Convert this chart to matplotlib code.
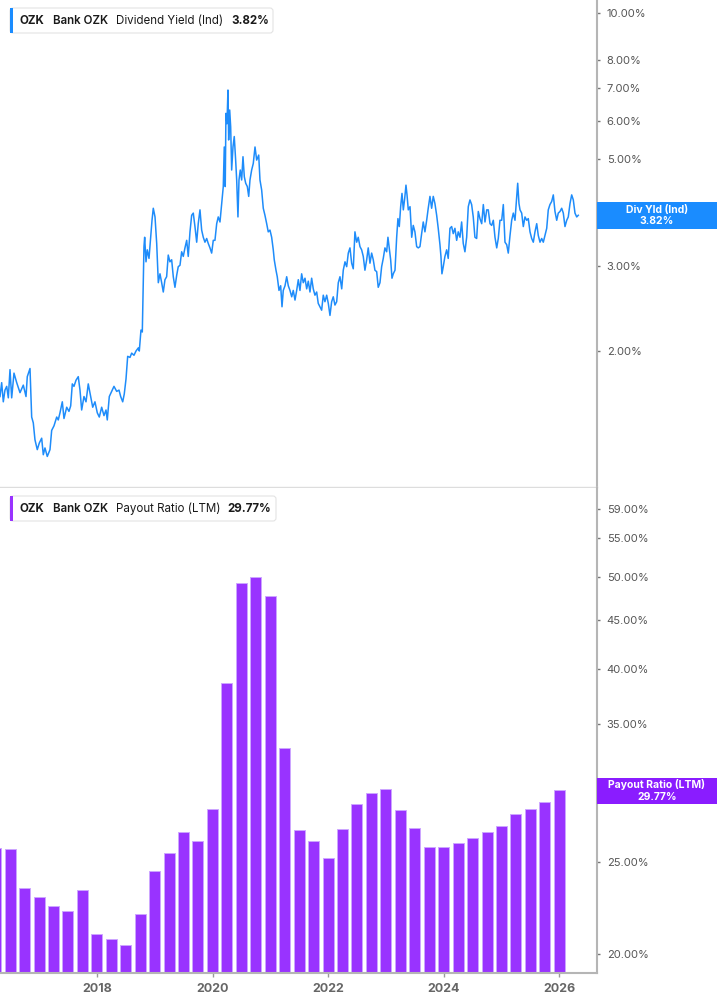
import numpy as np
import pandas as pd
import matplotlib
matplotlib.use('Agg')
import matplotlib.pyplot as plt
from matplotlib.patches import Rectangle, FancyBboxPatch
from matplotlib.ticker import FixedLocator, NullLocator
from matplotlib.transforms import Affine2D

plt.rcParams['font.family'] = ['Inter', 'DejaVu Sans']

# dividend yield (Ind), %, x in decimal years
yield_years = [
    2016.322, 2016.351, 2016.379, 2016.408, 2016.438, 2016.466, 2016.495, 2016.524, 2016.564, 2016.611,
    2016.668, 2016.725, 2016.772, 2016.794, 2016.841, 2016.870, 2016.898, 2016.927, 2016.967, 2017.002,
    2017.043, 2017.071, 2017.100, 2017.140, 2017.187, 2017.216, 2017.256, 2017.303, 2017.330, 2017.360,
    2017.400, 2017.429, 2017.476, 2017.515, 2017.545, 2017.573, 2017.602, 2017.637, 2017.676, 2017.706,
    2017.735, 2017.775, 2017.810, 2017.849, 2017.891, 2017.926, 2017.965, 2018.005, 2018.040, 2018.081,
    2018.121, 2018.156, 2018.178, 2018.213, 2018.254, 2018.294, 2018.341, 2018.381, 2018.410, 2018.445,
    2018.472, 2018.502, 2018.531, 2018.571, 2018.600, 2018.640, 2018.675, 2018.715, 2018.732, 2018.761,
    2018.784, 2018.801, 2018.813, 2018.825, 2018.848, 2018.870, 2018.900, 2018.929, 2018.952, 2018.974,
    2019.004, 2019.033, 2019.061, 2019.090, 2019.119, 2019.147, 2019.176, 2019.205, 2019.233, 2019.262,
    2019.292, 2019.320, 2019.349, 2019.379, 2019.406, 2019.436, 2019.465, 2019.493, 2019.522, 2019.552,
    2019.579, 2019.609, 2019.638, 2019.666, 2019.695, 2019.725, 2019.752, 2019.782, 2019.811, 2019.839,
    2019.868, 2019.898, 2019.925, 2019.955, 2019.984, 2020.012, 2020.041, 2020.071, 2020.098, 2020.128,
    2020.157, 2020.185, 2020.202, 2020.219, 2020.231, 2020.249, 2020.266, 2020.278, 2020.296, 2020.313,
    2020.330, 2020.353, 2020.375, 2020.399, 2020.417, 2020.439, 2020.457, 2020.479, 2020.503, 2020.526,
    2020.549, 2020.573, 2020.601, 2020.625, 2020.647, 2020.676, 2020.704, 2020.734, 2020.763, 2020.798,
    2020.820, 2020.849, 2020.877, 2020.906, 2020.936, 2020.963, 2020.993, 2021.022, 2021.050, 2021.067,
    2021.097, 2021.119, 2021.149, 2021.178, 2021.201, 2021.223, 2021.253, 2021.282, 2021.310, 2021.339,
    2021.369, 2021.396, 2021.426, 2021.455, 2021.483, 2021.512, 2021.541, 2021.569, 2021.599, 2021.628,
    2021.656, 2021.685, 2021.714, 2021.742, 2021.771, 2021.801, 2021.828, 2021.858, 2021.887, 2021.915,
    2021.944, 2021.974, 2022.002, 2022.031, 2022.060, 2022.088, 2022.117, 2022.147, 2022.175, 2022.204,
    2022.234, 2022.261, 2022.291, 2022.320, 2022.348, 2022.377, 2022.406, 2022.434, 2022.463, 2022.493,
    2022.520, 2022.550, 2022.579, 2022.607, 2022.636, 2022.666, 2022.693, 2022.723, 2022.752, 2022.780,
    2022.809, 2022.839, 2022.866, 2022.896, 2022.925, 2022.953, 2022.982, 2023.012, 2023.034, 2023.057,
    2023.081, 2023.104, 2023.126, 2023.156, 2023.185, 2023.207, 2023.230, 2023.254, 2023.277, 2023.300,
    2023.324, 2023.346, 2023.364, 2023.386, 2023.416, 2023.445, 2023.472, 2023.501, 2023.531, 2023.558,
    2023.588, 2023.617, 2023.645, 2023.674, 2023.704, 2023.731, 2023.761, 2023.790, 2023.818, 2023.847,
    2023.877, 2023.904, 2023.934, 2023.951, 2023.968, 2023.991, 2024.020, 2024.050, 2024.077, 2024.107,
    2024.136, 2024.164, 2024.193, 2024.223, 2024.250, 2024.280, 2024.309, 2024.337, 2024.366, 2024.396,
    2024.424, 2024.453, 2024.482, 2024.510, 2024.539, 2024.569, 2024.597, 2024.626, 2024.656, 2024.684,
    2024.713, 2024.743, 2024.770, 2024.800, 2024.829, 2024.857, 2024.886, 2024.916, 2024.943, 2024.972,
    2025.002, 2025.030, 2025.059, 2025.089, 2025.116, 2025.146, 2025.175, 2025.203, 2025.232, 2025.262,
    2025.279, 2025.301, 2025.319, 2025.348, 2025.376, 2025.405, 2025.435, 2025.462, 2025.492, 2025.521,
    2025.549, 2025.578, 2025.608, 2025.635, 2025.665, 2025.694, 2025.722, 2025.751, 2025.781, 2025.808,
    2025.837, 2025.867, 2025.895, 2025.924, 2025.954, 2025.981, 2026.011, 2026.040, 2026.068, 2026.097,
    2026.127, 2026.154, 2026.184, 2026.213, 2026.241, 2026.270, 2026.300, 2026.327,
]
yield_pct = [
    1.61, 1.72, 1.57, 1.66, 1.69, 1.60, 1.83, 1.60, 1.80, 1.72,
    1.64, 1.70, 1.61, 1.77, 1.84, 1.46, 1.42, 1.31, 1.25, 1.29,
    1.32, 1.22, 1.26, 1.21, 1.25, 1.37, 1.40, 1.46, 1.44, 1.49,
    1.57, 1.45, 1.53, 1.50, 1.54, 1.71, 1.69, 1.74, 1.77, 1.66,
    1.51, 1.61, 1.57, 1.71, 1.61, 1.53, 1.57, 1.49, 1.46, 1.53,
    1.47, 1.51, 1.44, 1.61, 1.65, 1.69, 1.65, 1.66, 1.61, 1.57,
    1.63, 1.75, 1.95, 1.94, 1.98, 1.96, 2.00, 2.03, 2.00, 2.21,
    2.19, 2.81, 3.29, 3.44, 3.06, 3.24, 3.11, 3.44, 3.73, 3.95,
    3.79, 3.34, 2.77, 2.89, 2.77, 2.65, 2.81, 2.85, 3.16, 3.06,
    3.09, 2.85, 2.71, 2.87, 2.99, 3.01, 3.21, 3.14, 3.27, 3.39,
    3.14, 3.53, 3.82, 3.86, 3.62, 3.36, 3.67, 3.92, 3.56, 3.44,
    3.36, 3.42, 3.34, 3.27, 3.19, 3.39, 3.39, 3.67, 3.79, 3.70,
    4.04, 4.38, 5.29, 4.38, 6.21, 5.91, 6.94, 5.47, 6.31, 5.82,
    4.74, 5.29, 5.56, 4.97, 4.52, 3.79, 4.52, 4.74, 4.52, 5.05,
    4.59, 4.45, 4.38, 4.18, 4.52, 4.74, 4.89, 5.29, 4.97, 5.09,
    4.52, 4.31, 3.95, 3.82, 3.67, 3.53, 3.56, 3.44, 3.24, 3.09,
    2.94, 2.85, 2.67, 2.73, 2.47, 2.67, 2.73, 2.85, 2.73, 2.67,
    2.59, 2.67, 2.55, 2.67, 2.81, 2.67, 2.89, 2.77, 2.83, 2.69,
    2.79, 2.65, 2.83, 2.69, 2.61, 2.65, 2.51, 2.47, 2.43, 2.61,
    2.53, 2.61, 2.51, 2.37, 2.53, 2.59, 2.49, 2.53, 2.77, 2.85,
    2.69, 2.94, 3.06, 2.99, 3.19, 3.27, 3.04, 2.96, 3.53, 3.36,
    3.44, 3.29, 3.24, 3.14, 2.94, 3.09, 3.27, 3.04, 3.19, 3.09,
    2.94, 2.92, 2.71, 2.77, 2.99, 3.11, 3.27, 3.21, 3.44, 3.27,
    3.09, 2.83, 2.89, 2.94, 3.44, 3.76, 3.62, 3.98, 4.24, 3.92,
    4.14, 4.41, 4.21, 3.92, 3.98, 3.44, 3.64, 3.53, 3.29, 3.27,
    3.29, 3.50, 3.70, 3.53, 3.73, 3.95, 4.18, 3.95, 4.18, 4.04,
    3.82, 3.59, 3.32, 3.14, 2.89, 2.99, 3.14, 3.24, 3.11, 3.59,
    3.62, 3.50, 3.59, 3.39, 3.53, 3.44, 3.70, 3.34, 3.21, 3.44,
    3.98, 4.11, 4.02, 3.79, 3.44, 3.42, 3.89, 3.76, 3.67, 4.02,
    3.70, 3.92, 3.92, 3.67, 3.64, 3.73, 3.44, 3.27, 3.42, 3.73,
    3.73, 4.02, 3.36, 3.32, 3.19, 3.47, 3.73, 3.86, 3.73, 4.18,
    4.45, 4.04, 3.92, 3.86, 3.62, 3.79, 3.73, 3.76, 3.53, 3.42,
    3.36, 3.53, 3.67, 3.47, 3.36, 3.42, 3.36, 3.47, 3.59, 3.92,
    4.02, 4.08, 4.21, 3.89, 3.73, 3.86, 3.89, 3.95, 3.86, 3.62,
    3.73, 3.79, 4.04, 4.21, 4.11, 3.86, 3.79, 3.82,
]

# payout ratio (LTM), %, quarter ends 2016Q1 .. 2025Q4
payout_dates = pd.date_range('2016-03-31', '2025-12-31', freq='QE')
payout_pct = [
    25.91, 25.81, 23.51, 23.00, 22.49, 22.23, 23.38, 21.01, 20.74, 20.46,
    22.06, 24.49, 25.58, 26.94, 26.32, 28.45, 38.64, 49.33, 49.98, 47.73,
    33.04, 27.05, 26.32, 25.29, 27.10, 28.79, 29.60, 29.91, 28.40, 27.20,
    25.96, 25.94, 26.17, 26.55, 26.92, 27.30, 28.10, 28.49, 28.93, 29.77,
]
payout_years = payout_dates.year + payout_dates.dayofyear / 365.25

yield_ticks = [2, 3, 4, 5, 6, 7, 8, 10]
payout_ticks = [20, 25, 35, 40, 45, 50, 55, 59]   # 30% sits under the value tag
year_ticks = [2018, 2020, 2022, 2024, 2026]

W, H = 717, 1005
fig = plt.figure(figsize=(W / 100, H / 100), dpi=100)
# pixel coords (y down) -> figure
T = Affine2D().scale(1 / W, -1 / H).translate(0, 1) + fig.transFigure

ax1 = fig.add_axes([0, 1 - 487 / H, 597 / W, 487 / H])
ax2 = fig.add_axes([0, 1 - 973 / H, 597 / W, 485 / H])

ax1.plot(yield_years, yield_pct, color='#1E8CFA', lw=1.1)
ax1.set_yscale('log')
ax1.set_ylim(1.046, 10.66)

ax2.bar(payout_years, payout_pct, width=0.19, color='#9933FF',
        edgecolor='#CDA6FF', linewidth=0.7)
ax2.set_yscale('log', nonpositive='clip')
ax2.set_ylim(19.1, 62.1)

for ax, ticks in ((ax1, yield_ticks), (ax2, payout_ticks)):
    ax.set_xlim(2016.322, 2026.651)
    ax.yaxis.tick_right()
    ax.yaxis.set_major_locator(FixedLocator(ticks))
    ax.yaxis.set_minor_locator(NullLocator())
    ax.set_yticklabels(['%.2f%%' % t for t in ticks])
    ax.tick_params(axis='y', length=2, width=1, color='#777777', labelsize=8,
                   labelcolor='#555555', pad=5)
    for s in ('left', 'top'):
        ax.spines[s].set_visible(False)
    ax.spines['right'].set_color('#b5b5b5')
    ax.spines['right'].set_linewidth(1.5)

ax1.spines['bottom'].set_color('#dddddd')
ax1.spines['bottom'].set_linewidth(1)
ax1.tick_params(axis='x', bottom=False, labelbottom=False)

ax2.spines['bottom'].set_color('#b5b5b5')
ax2.spines['bottom'].set_linewidth(1.5)
ax2.xaxis.set_major_locator(FixedLocator(year_ticks))
ax2.xaxis.set_minor_locator(NullLocator())
ax2.set_xticklabels([str(y) for y in year_ticks], fontweight='bold')
ax2.tick_params(axis='x', length=3, width=1, color='#999999', labelsize=9,
                labelcolor='#666666', pad=4)

# value tags on the right axis
def tag(y0, y1, color, name, val):
    fig.add_artist(Rectangle((597, y0), 120, y1 - y0, transform=T,
                             facecolor=color, edgecolor='none', zorder=5))
    ym = (y0 + y1) / 2
    fig.text(657, ym - 6, name, transform=T, ha='center', va='center',
             color='white', fontsize=7.5, fontweight='bold', zorder=6)
    fig.text(657, ym + 6, val, transform=T, ha='center', va='center',
             color='white', fontsize=7.5, fontweight='bold', zorder=6)

tag(202, 229, '#1A8CFF', 'Div Yld (Ind)', '3.82%')
tag(778, 804, '#8A1CFF', 'Payout Ratio (LTM)', '29.77%')

# legend boxes
def legend(y0, x1, color, metric, val, xval):
    fig.add_artist(FancyBboxPatch((10, y0), x1 - 10, 25, transform=T,
                                  boxstyle='round,pad=0,rounding_size=3',
                                  facecolor='white', edgecolor='#e3e3e3',
                                  linewidth=0.8, zorder=5))
    fig.add_artist(Rectangle((10, y0), 3, 25, transform=T, facecolor=color,
                             edgecolor='none', zorder=6))
    yc = y0 + 12.5
    parts = [(20, 'OZK', 'bold'), (53, 'Bank OZK', 'semibold'),
             (116, metric, 'normal'), (xval, val, 'bold')]
    for x, s, w in parts:
        fig.text(x, yc, s, transform=T, ha='left', va='center', color='#1a1a1a',
                 fontsize=8.3, fontweight=w, zorder=7)

legend(8, 273, '#1A8CFF', 'Dividend Yield (Ind)', '3.82%', 231)
legend(496, 276, '#9933FF', 'Payout Ratio (LTM)', '29.77%', 227)

fig.savefig('out.png', dpi=100)
